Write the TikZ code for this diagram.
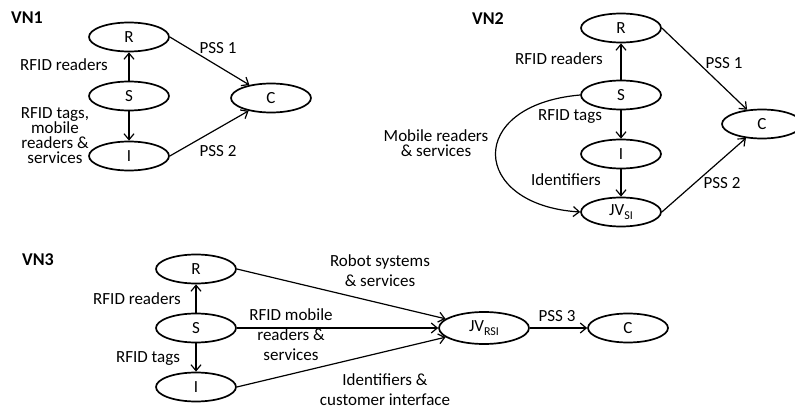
\documentclass[tikz,border=0pt]{standalone}
\usepackage{fontspec}
\setmainfont{Carlito}
\usetikzlibrary{shapes.geometric,arrows.meta}
\newcommand{\sbx}[1]{\raisebox{-0.45ex}{\fontsize{12}{12}\selectfont #1}}
\begin{document}
\begin{tikzpicture}[x=1pt,y=-1pt,
  every node/.style={font=\fontsize{17}{19}\selectfont},
  el/.style={ellipse,draw,line width=1.7pt,minimum width=80pt,minimum height=29pt,inner sep=0pt},
  lbl/.style={align=center,inner sep=0pt},
  tight/.style={lbl,font=\fontsize{17}{15}\selectfont},
  loose/.style={lbl,font=\fontsize{17}{20}\selectfont},
  ttl/.style={font=\fontsize{18}{20}\selectfont\bfseries,inner sep=0pt},
  arr/.style={-{Straight Barb[length=6pt,width=10pt]},line width=1.2pt}]
\useasboundingbox (0,0) rectangle (795,414);
% VN1
\node[ttl] (vn1) at (27,18) {VN1};
\node[el] (r1) at (129,37) {R};
\node[el] (s1) at (129,96) {S};
\node[el] (i1) at (129,156) {I};
\node[el] (c1) at (271,98) {C};
\draw[arr] (s1) -- (r1);
\draw[arr] (s1) -- (i1);
\draw[arr] (r1.east) -- (c1);
\draw[arr] (i1.east) -- (c1);
\node[lbl] (l1a) at (64,65) {RFID readers};
\node[tight] (l1b) at (55,136) {RFID tags,\\mobile\\readers \&\\services};
\node[lbl] (p11) at (218,48) {PSS 1};
\node[lbl] (p12) at (218,151) {PSS 2};
% VN2
\node[ttl] (vn2) at (488,19) {VN2};
\node[el] (r2) at (621,28) {R};
\node[el] (s2) at (621,95) {S};
\node[el] (i2) at (621,154) {I};
\node[el] (j2) at (621,212) {JV\sbx{SI}};
\node[el] (c2) at (762,124) {C};
\draw[arr] (s2) -- (r2);
\draw[arr] (s2) -- (i2);
\draw[arr] (i2) -- (j2);
\draw[arr] (r2.east) -- (c2);
\draw[arr] (j2.east) -- (c2);
\draw[arr] (s2.west) .. controls (465,105) and (470,205) .. (j2.west);
\node[lbl] (l2a) at (559,59) {RFID readers};
\node[lbl] (p21) at (724,63) {PSS 1};
\node[lbl] (l2b) at (570,117) {RFID tags};
\node[tight] (l2c) at (436,143) {Mobile readers\\\& services};
\node[lbl] (l2d) at (566,180) {Identifiers};
\node[lbl] (p22) at (722,183) {PSS 2};
% VN3
\node[ttl] (vn3) at (38,260) {VN3};
\node[el] (r3) at (196,269) {R};
\node[el] (s3) at (196,328) {S};
\node[el] (i3) at (196,387) {I};
\node[el,minimum width=90pt,minimum height=32pt] (j3) at (484,328) {JV\sbx{RSI}};
\node[el] (c3) at (628,328) {C};
\draw[arr] (s3) -- (r3);
\draw[arr] (s3) -- (i3);
\draw[arr] (r3.east) -- (j3);
\draw[arr] (s3.east) -- (j3.west);
\draw[arr] (i3.east) -- (j3);
\draw[arr] (j3.east) -- (c3.west);
\node[lbl] (l3a) at (137,299) {RFID readers};
\node[lbl] (l3b) at (148,359) {RFID tags};
\node[loose] (l3c) at (380,271) {Robot systems\\\& services};
\node[loose] (l3d) at (291,335) {RFID mobile\\readers \&\\services};
\node[loose] (l3e) at (385,390) {Identifiers \&\\customer interface};
\node[lbl] (p3) at (557,316) {PSS 3};
\end{tikzpicture}
\end{document}
